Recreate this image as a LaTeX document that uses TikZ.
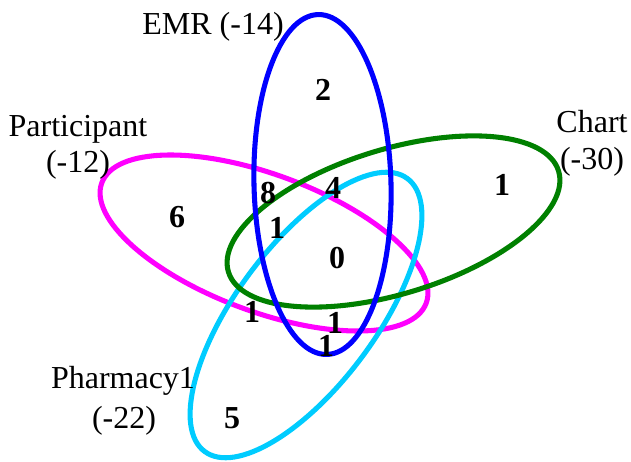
\documentclass[tikz,border=0pt]{standalone}
\usepackage{fontspec}
\setmainfont{Liberation Serif}
\definecolor{emrblue}{HTML}{0000FF}
\definecolor{partmag}{HTML}{FF00FF}
\definecolor{chartgreen}{HTML}{008000}
\definecolor{pharmcyan}{HTML}{00CCFF}
\begin{document}
\begin{tikzpicture}[x=0.75pt,y=0.75pt,
  setline/.style={line width=3.8pt},
  lbl/.style={font=\fontsize{24}{28}\selectfont, inner sep=0pt, anchor=base},
  num/.style={font=\fontsize{24}{28}\selectfont\bfseries, inner sep=0pt}]
\useasboundingbox (0,0) rectangle (631,461);
% sets
\draw[setline, partmag] (264,218) ellipse [x radius=173, y radius=68.5, rotate=-20.35];
\draw[setline, pharmcyan] (306,146) ellipse [x radius=170, y radius=70, rotate=53.4];
\draw[setline, chartgreen] (393.5,239.5) ellipse [x radius=172.6, y radius=72.3, rotate=17];
\draw[setline, emrblue] (322.5,276.5) ellipse [x radius=68.5, y radius=170, rotate=1.5];
% labels
\node[lbl] (emr) at (213,426) {EMR (-14)};
\node[lbl] (part) at (78,324) {Participant};
\node[lbl] (partn) at (78,288) {(-12)};
\node[lbl] (chart) at (592,328) {Chart};
\node[lbl] (chartn) at (592,291) {(-30)};
\node[lbl] (pharm) at (123,73) {Pharmacy1};
\node[lbl] (pharmn) at (124,33) {(-22)};
% counts
\node[num] (n2) at (323,371) {2};
\node[num] (nc) at (502,276) {1};
\node[num] (n6) at (177,244) {6};
\node[num] (n8) at (268,268) {8};
\node[num] (n4) at (333,273) {4};
\node[num] (npec) at (277,233) {1};
\node[num] (n0) at (337,203) {0};
\node[num] (npp) at (252,149) {1};
\node[num] (npe) at (335,138) {1};
\node[num] (nep) at (326,115) {1};
\node[num] (n5) at (232,43) {5};
\end{tikzpicture}
\end{document}
